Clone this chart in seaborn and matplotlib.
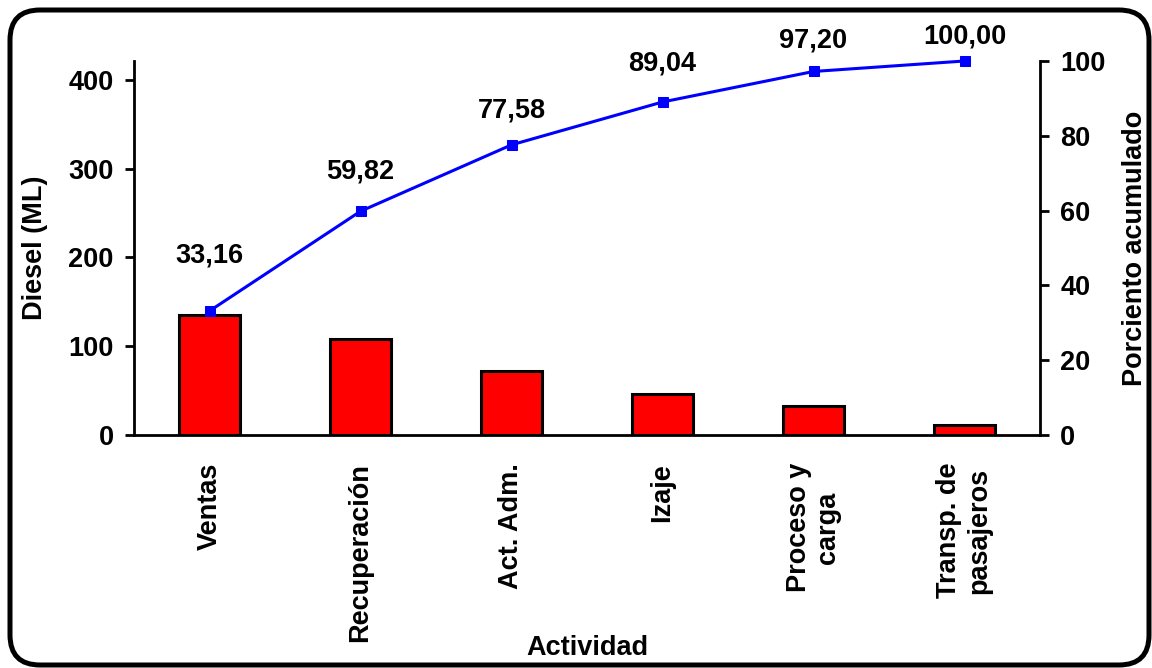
import numpy as np
import pandas as pd
import matplotlib
matplotlib.use("Agg")
import matplotlib.pyplot as plt
from matplotlib.patches import FancyBboxPatch
from matplotlib.ticker import FixedLocator
import seaborn as sns

# Consumo de diesel por actividad (ML) y porcentaje acumulado
actividades = ["Ventas", "Recuperación", "Act. Adm.", "Izaje",
               "Proceso y\ncarga", "Transp. de\npasajeros"]
diesel_ml = [135.0, 108.5, 72.3, 46.6, 33.2, 11.4]
porciento_acumulado = [33.16, 59.82, 77.58, 89.04, 97.20, 100.00]
etiquetas_pct = ["33,16", "59,82", "77,58", "89,04", "97,20", "100,00"]

y_ticks_diesel = [0, 100, 200, 300, 400]
y_ticks_pct = [0, 20, 40, 60, 80, 100]

sns.set_style("white")
plt.rcParams["font.family"] = ["Liberation Sans", "DejaVu Sans"]
plt.rcParams["font.weight"] = "bold"
for key in ["text.color", "axes.labelcolor", "xtick.color", "ytick.color"]:
    plt.rcParams[key] = "black"

FS = 19.5
fig = plt.figure(figsize=(11.52, 6.68), dpi=100)
ax = fig.add_axes([134 / 1152, 1 - 435 / 668, (1040 - 134) / 1152, (435 - 61) / 668])

df = pd.DataFrame({"Actividad": actividades, "Diesel": diesel_ml})
sns.barplot(data=df, x="Actividad", y="Diesel", ax=ax, color="#ff0000",
            saturation=1, width=0.41, edgecolor="black", linewidth=2.2)

ax.set_xlim(-0.5, len(actividades) - 0.5)
ax.set_ylim(0, 421.4)
ax.set_yticks(y_ticks_diesel)
ax.set_yticklabels([str(v) for v in y_ticks_diesel], fontsize=FS, fontweight="bold")

ax.set_xticks(range(len(actividades)))
ax.set_xticklabels(actividades, rotation=90, fontsize=FS, fontweight="bold",
                   ha="center", va="top", multialignment="center")
ax.xaxis.set_minor_locator(FixedLocator(np.arange(-0.5, len(actividades), 1.0)))
ax.tick_params(axis="x", which="major", length=0, pad=20)
ax.tick_params(axis="x", which="minor", length=7, width=2, direction="out", color="black")
ax.tick_params(axis="y", which="major", length=6.5, width=2, direction="out",
               color="black", pad=8, left=True)

for side in ["top", "right"]:
    ax.spines[side].set_visible(False)
for side in ["left", "bottom"]:
    ax.spines[side].set_linewidth(2)
    ax.spines[side].set_color("black")

ax.set_xlabel("Actividad", fontsize=FS, fontweight="bold", va="center")
ax.xaxis.set_label_coords(0.5, (435 - 648) / 374)
ax.set_ylabel("Diesel (ML)", fontsize=FS, fontweight="bold", va="center")
ax.yaxis.set_label_coords((35 - 134) / 906, 0.5)

# Eje secundario: porcentaje acumulado
ax2 = ax.twinx()
x_pos = np.arange(len(actividades))
sns.lineplot(x=x_pos, y=porciento_acumulado, ax=ax2, color="#0000ff",
             linewidth=2.2, marker="s", markersize=7, markeredgecolor="#0000ff",
             sort=False, clip_on=False)
ax2.set_ylim(0, 100)
ax2.set_yticks(y_ticks_pct)
ax2.set_yticklabels([str(v) for v in y_ticks_pct], fontsize=FS, fontweight="bold")
ax2.tick_params(axis="y", which="major", length=6.5, width=2, direction="out",
                color="black", pad=8, right=True)
for side in ["top", "left", "bottom"]:
    ax2.spines[side].set_visible(False)
ax2.spines["right"].set_linewidth(2)
ax2.spines["right"].set_color("black")
ax2.set_ylabel("Porciento acumulado", fontsize=FS, fontweight="bold", va="center")
ax2.yaxis.set_label_coords((1135 - 134) / 906, 0.5)
ax2.set_xlim(-0.5, len(actividades) - 0.5)

# Etiquetas de datos sobre la línea
desplazamientos = [55, 40, 34, 38, 31, 25]
for xi, yi, txt, dy in zip(x_pos, porciento_acumulado, etiquetas_pct, desplazamientos):
    ax2.annotate(txt, (xi, yi), xytext=(0, dy), textcoords="offset pixels",
                 ha="center", va="center", fontsize=FS, fontweight="bold",
                 color="black", annotation_clip=False)

# Marco redondeado alrededor del gráfico
marco = FancyBboxPatch((0.10, 0.03), 11.39, 6.55,
                       boxstyle="round,pad=0,rounding_size=0.3",
                       transform=fig.dpi_scale_trans, fill=False,
                       edgecolor="black", linewidth=3.6, zorder=10)
fig.patches.append(marco)

fig.savefig("out.png", dpi=100, facecolor="white")
